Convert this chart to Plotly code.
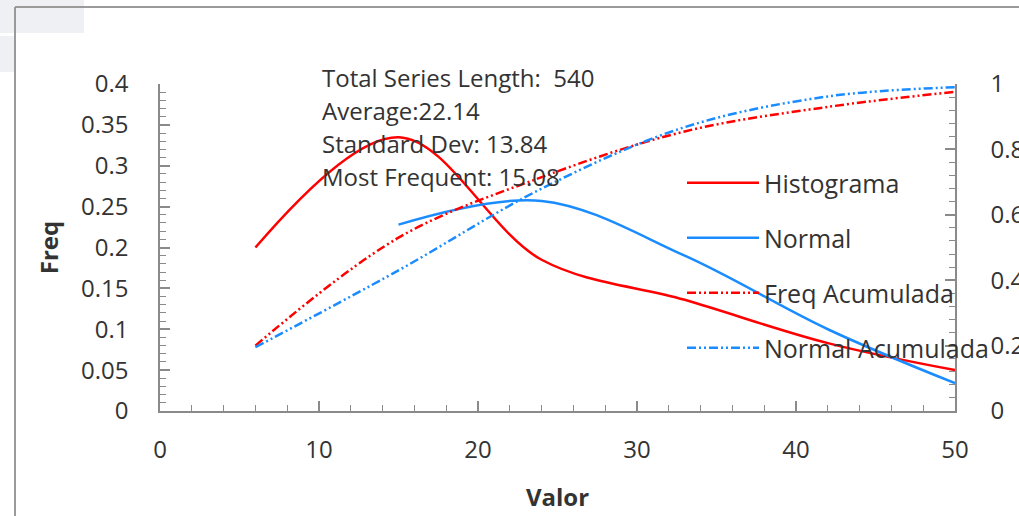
import plotly.graph_objects as go

# ---- data ----
x_bins = [6, 15, 24, 33, 42, 50]
histograma = [0.200, 0.335, 0.185, 0.136, 0.083, 0.050]
freq_acumulada = [0.20, 0.53, 0.715, 0.855, 0.93, 0.976]

x_normal = [15, 24, 33, 42, 50]
normal = [0.228, 0.257, 0.190, 0.100, 0.034]
normal_acumulada = [0.195, 0.43, 0.68, 0.868, 0.962, 0.99]

stats_lines = [
    "Total Series Length:  540",
    "Average:22.14",
    "Standard Dev: 13.84",
    "Most Frequent: 15.08",
]

RED = "#FF0000"
BLUE = "#1A8CFF"
FONT = "Open Sans"
TXT = "#333333"
AXC = "#8a8a8a"
DDOT = "9px,3px,2px,3px,2px,3px"

W, H = 1019, 516
L, R, T, B = 160, 64, 84, 105
PW, PH = W - L - R, H - T - B


def px(x):
    return (x - L) / PW


def py(y):
    return (H - B - y) / PH


fig = go.Figure()
fig.add_trace(go.Scatter(x=x_bins, y=histograma, name="Histograma", mode="lines", legendgroup="g1",
                         line=dict(color=RED, width=2.5, shape="spline", smoothing=1.0)))
fig.add_trace(go.Scatter(x=x_normal, y=normal, name="Normal", mode="lines", legendgroup="g2",
                         line=dict(color=BLUE, width=2.5, shape="spline", smoothing=1.0)))
fig.add_trace(go.Scatter(x=x_bins, y=freq_acumulada, name="Freq Acumulada", mode="lines", yaxis="y2",
                         legendgroup="g3",
                         line=dict(color=RED, width=2.5, dash=DDOT, shape="spline", smoothing=1.0)))
fig.add_trace(go.Scatter(x=x_bins, y=normal_acumulada, name="Normal Acumulada", mode="lines", yaxis="y2",
                         legendgroup="g4",
                         line=dict(color=BLUE, width=2.5, dash=DDOT, shape="spline", smoothing=1.0)))

tickfont = dict(family=FONT, size=24, color=TXT)

fig.update_layout(
    width=W, height=H,
    margin=dict(l=L, r=R, t=T, b=B, autoexpand=False),
    paper_bgcolor="white", plot_bgcolor="white",
    template="none",
    xaxis=dict(range=[0, 50], tickvals=[0, 10, 20, 30, 40, 50], ticks="inside", ticklen=10,
               tickcolor=AXC, tickwidth=1.5, showline=True, linecolor=AXC, linewidth=1.5,
               showgrid=False, zeroline=False, tickfont=tickfont, ticklabelstandoff=16,
               minor=dict(dtick=2, ticks="inside", ticklen=6, tickcolor=AXC, tickwidth=1.2),
               title=dict(text="<b>Valor</b>", font=dict(family=FONT, size=24, color=TXT), standoff=26),
               automargin=False),
    yaxis=dict(range=[0, 0.4], dtick=0.05, ticks="inside", ticklen=10, tickcolor=AXC, tickwidth=1.5,
               showline=True, linecolor=AXC, linewidth=1.5, showgrid=False, zeroline=False,
               tickfont=tickfont, ticklabelstandoff=25,
               minor=dict(dtick=0.01, ticks="inside", ticklen=6, tickcolor=AXC, tickwidth=1.2),
               title=dict(text="<b>Freq</b>", font=dict(family=FONT, size=24, color=TXT), standoff=16),
               automargin=False),
    yaxis2=dict(range=[0, 1], dtick=0.2, overlaying="y", side="right", ticks="inside", ticklen=10,
                tickcolor=AXC, tickwidth=1.5, showline=True, linecolor=AXC, linewidth=1.5,
                showgrid=False, zeroline=False, tickfont=tickfont, ticklabelstandoff=29,
                minor=dict(dtick=0.04, ticks="inside", ticklen=6, tickcolor=AXC, tickwidth=1.2),
                automargin=False),
    legend=dict(x=px(682), y=py(160), xanchor="left", yanchor="top",
                font=dict(family=FONT, size=25, color=TXT), bgcolor="rgba(0,0,0,0)",
                tracegroupgap=19.5, itemwidth=72),
    showlegend=True,
)

# statistics text block
for i, line in enumerate(stats_lines):
    fig.add_annotation(text=line, xref="paper", yref="paper", x=px(320), y=py(77 + 33.3 * i),
                       xanchor="left", yanchor="middle", showarrow=False, align="left",
                       font=dict(family=FONT, size=24, color=TXT))

# screenshot frame / background patches
shapes = [
    dict(type="rect", x0=px(0), x1=px(84), y0=py(0), y1=py(33), fillcolor="#eef0f4", line_width=0, layer="below"),
    dict(type="rect", x0=px(0), x1=px(15), y0=py(36), y1=py(72), fillcolor="#eef0f4", line_width=0, layer="below"),
    dict(type="line", x0=px(15), x1=px(1019), y0=py(7), y1=py(7), line=dict(color="#9a9a9a", width=2)),
    dict(type="line", x0=px(15), x1=px(15), y0=py(7), y1=py(516), line=dict(color="#9a9a9a", width=2)),
]
for s in shapes:
    s.update(xref="paper", yref="paper")
    fig.add_shape(**s)

fig.write_html("out.html", config={"displayModeBar": False},
               post_script="document.body.style.margin='0';document.body.style.overflow='hidden';")
